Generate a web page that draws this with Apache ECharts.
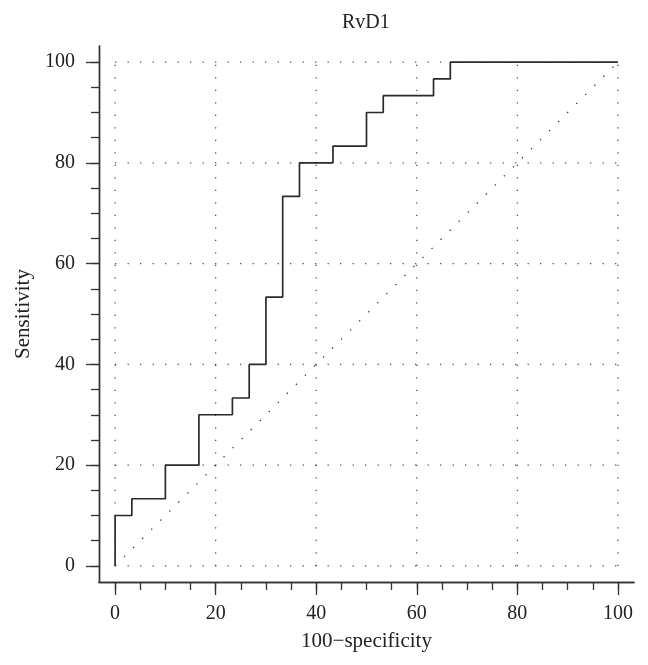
<!DOCTYPE html>
<html>
<head>
<meta charset="utf-8">
<script src="https://cdn.jsdelivr.net/npm/echarts@6/dist/echarts.min.js"></script>
<style>html,body{margin:0;padding:0;background:#fff;}#c{width:648px;height:665px;}</style>
</head>
<body>
<div id="c"></div>
<script>
// ROC curve points (100-specificity, sensitivity)
var fpr = [0, 0, 3.33, 10, 16.67, 23.33, 26.67, 30, 33.33, 36.67, 43.33, 50, 53.33, 63.33, 66.67, 100];
var tpr = [0, 10, 13.33, 20, 30, 33.33, 40, 53.33, 73.33, 80, 83.33, 90, 93.33, 96.67, 100, 100];
var majorTicks = [0, 20, 40, 60, 80, 100];
var minorTicks = [0, 5, 10, 15, 20, 25, 30, 35, 40, 45, 50, 55, 60, 65, 70, 75, 80, 85, 90, 95, 100];
var diagonal = [0, 100];
var gridEnd = 101.6;
var titleText = 'RvD1';
var xName = '100\u2212specificity';
var yName = 'Sensitivity';

var FONT = 'Liberation Serif';
var INK = '#333';
var dotted = { color: '#444', width: 1.2, type: [1.2, 11.3] };

var series = [];
majorTicks.forEach(function (t) {
  series.push({ type: 'line', xAxisIndex: 0, yAxisIndex: 0, data: [[t, 0], [t, gridEnd]],
    symbol: 'none', silent: true, lineStyle: dotted, z: 1 });
  series.push({ type: 'line', xAxisIndex: 0, yAxisIndex: 0, data: [[0, t], [gridEnd, t]],
    symbol: 'none', silent: true, lineStyle: dotted, z: 1 });
});
series.push({ type: 'line', xAxisIndex: 0, yAxisIndex: 0,
  data: diagonal.map(function (v) { return [v, v]; }),
  symbol: 'none', silent: true, lineStyle: { color: '#333', width: 1.3, type: [1.3, 11.5] }, z: 2 });
series.push({ type: 'line', xAxisIndex: 0, yAxisIndex: 0, step: 'end',
  data: fpr.map(function (x, i) { return [x, tpr[i]]; }),
  symbol: 'none', silent: true, lineStyle: { color: '#2a2a2a', width: 1.7 }, z: 3 });

function axisBase(isX, major) {
  return {
    type: 'value', min: -3.2, max: 103.2,
    position: isX ? 'bottom' : 'left',
    splitLine: { show: false },
    axisLine: { show: true, onZero: false, lineStyle: { color: INK, width: 1.4 } },
    axisTick: { show: true, inside: false, length: major ? 13 : 8,
      customValues: major ? majorTicks : minorTicks, lineStyle: { color: INK, width: 1.3 } },
    axisLabel: { show: major, customValues: majorTicks, margin: isX ? 22 : 24,
      fontFamily: FONT, fontSize: 20, color: '#222' },
    name: major ? (isX ? xName : yName) : '',
    nameLocation: 'middle',
    nameGap: isX ? 49 : 61,
    nameTextStyle: { fontFamily: FONT, fontSize: 21, color: '#222' }
  };
}

var chart = echarts.init(document.getElementById('c'), null, { renderer: 'canvas' });
chart.setOption({
  animation: false,
  backgroundColor: '#fff',
  title: { text: titleText, left: 337, top: 8,
    textStyle: { fontFamily: FONT, fontSize: 20, fontWeight: 'normal', color: '#222' } },
  grid: { left: 99, right: 14, top: 46, bottom: 83, containLabel: false },
  xAxis: [axisBase(true, false), axisBase(true, true)],
  yAxis: [axisBase(false, false), axisBase(false, true)],
  series: series
});
</script>
</body>
</html>
